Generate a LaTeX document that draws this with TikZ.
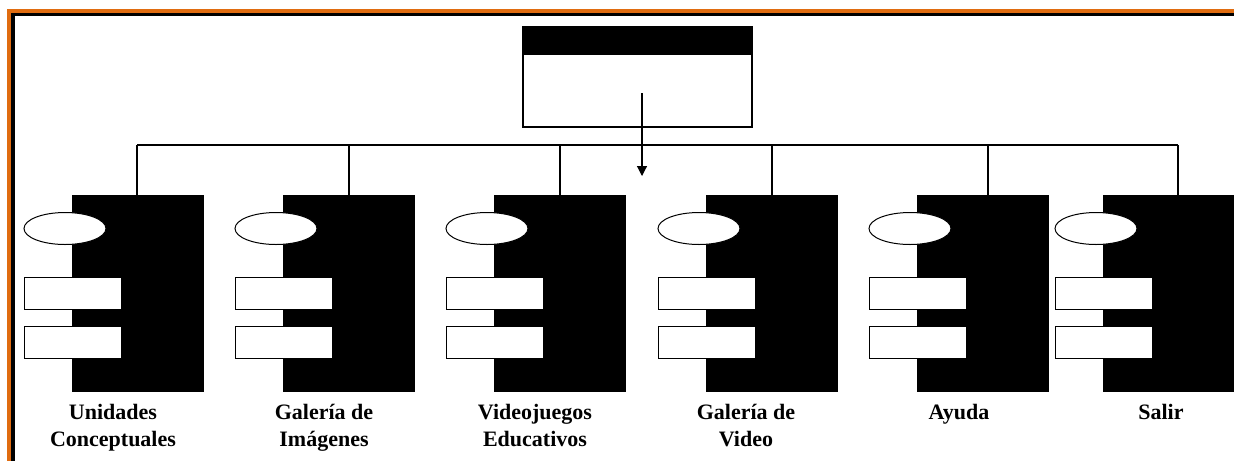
\documentclass[tikz,border=0pt]{standalone}
\usepackage{fontspec}
\setmainfont{Liberation Serif}
\usetikzlibrary{arrows.meta,shapes.geometric}
\definecolor{frameorange}{RGB}{224,108,16}
\tikzset{
  blk/.style={draw=black, fill=black, minimum width=131pt, minimum height=196pt, inner sep=0pt, line width=0.6pt},
  oval/.style={ellipse, draw=black, fill=white, minimum width=82pt, minimum height=32pt, inner sep=0pt, line width=1pt},
  port/.style={rectangle, draw=black, fill=white, minimum width=97pt, minimum height=32pt, inner sep=0pt, line width=1pt},
  lbl/.style={font=\bfseries\fontsize{22}{27}\selectfont, align=center, inner sep=0pt, anchor=base},
  link/.style={draw=black, line width=1.2pt},
}
\begin{document}
\begin{tikzpicture}[x=1pt,y=-1pt]
\useasboundingbox (0,0) rectangle (1234,461);
% frame
\fill[white] (0,0) rectangle (1234,461);
\fill[frameorange] (7,9) rectangle (1234,461);
\fill[black] (11,13) rectangle (1234,461);
\fill[white] (15,16) rectangle (1234,461);
% top box
\node[draw=black, fill=white, line width=1.2pt, minimum width=229pt, minimum height=100pt, inner sep=0pt] (top) at (637.5,77) {};
\node[fill=black, minimum width=229pt, minimum height=28pt, inner sep=0pt] (hdr) at (637.5,41) {};
\coordinate (as) at (642,93);
\coordinate (ae) at (642,176);
% bus coordinates
\foreach \i/\cx in {1/137,2/349,3/560,4/772,5/988,6/1178}{
  \coordinate (c\i) at (\cx,145);
}
\draw[link] (c1) -- (c6);
% components
\foreach \i/\bl in {1/72,2/283,3/494,4/706,5/917,6/1103}{
  \node[blk] (b\i) at (\bl+65.5,293) {};
  \node[oval] (e\i) at (\bl-7,228.5) {};
  \node[port] (p\i a) at (\bl+0.5,293) {};
  \node[port] (p\i b) at (\bl+0.5,342) {};
  \draw[link] (c\i) -- (c\i |- b\i.north);
}
\draw[link, -{Triangle[width=10pt,length=10pt]}] (as) -- (ae);
% labels
\node[lbl] (t1) at (113,446) {Unidades\\Conceptuales};
\node[lbl] (t2) at (324,446) {Galería de\\Imágenes};
\node[lbl] (t3) at (535,446) {Videojuegos\\Educativos};
\node[lbl] (t4) at (746,446) {Galería de\\Video};
\node[lbl] (t5) at (959,419) {Ayuda};
\node[lbl] (t6) at (1161,419) {Salir};
\end{tikzpicture}
\end{document}
